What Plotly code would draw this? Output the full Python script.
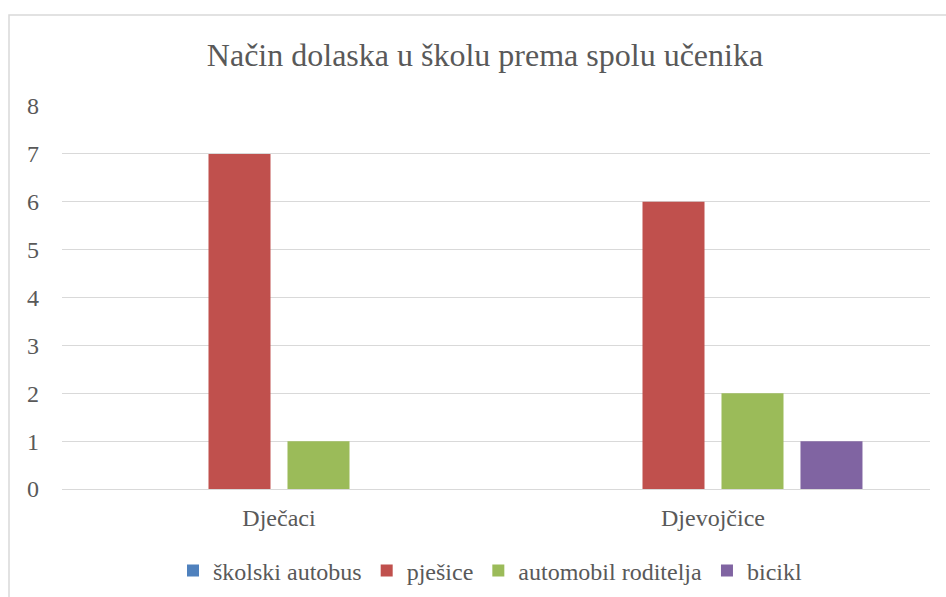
import plotly.graph_objects as go

categories = ["Dječaci", "Djevojčice"]
series_names = ["školski autobus", "pješice", "automobil roditelja", "bicikl"]
skolski_autobus = [0, 0]
pjesice = [7, 6]
automobil_roditelja = [1, 2]
bicikl = [0, 1]
series_values = [skolski_autobus, pjesice, automobil_roditelja, bicikl]
colors = ["#4F81BD", "#C0504D", "#9BBB59", "#8064A2"]
y_ticks = [0, 1, 2, 3, 4, 5, 6, 7, 8]

FONT = "'Liberation Serif', 'Times New Roman', serif"
TXT = "#595959"

fig = go.Figure()
for name, vals, col in zip(series_names, series_values, colors):
    fig.add_trace(go.Bar(name=name, x=categories, y=vals, marker=dict(color=col, line=dict(width=0))))

fig.update_layout(
    width=946, height=597,
    barmode="group", bargap=0.272, bargroupgap=0.215,
    paper_bgcolor="white", plot_bgcolor="white",
    margin=dict(l=62, r=16, t=106, b=108, pad=0),
    font=dict(family=FONT, color=TXT, size=24),
    title=dict(text="Način dolaska u školu prema spolu učenika", x=485/946, xref="container",
               xanchor="center", y=1-55/597, yref="container", yanchor="middle",
               font=dict(size=32, family=FONT, color=TXT)),
    legend=dict(orientation="h", x=490/946, xanchor="center", xref="container",
                y=1-571/597, yref="container", yanchor="middle",
                font=dict(size=24, family=FONT, color=TXT), itemwidth=30, traceorder="normal"),
    showlegend=True,
)
fig.update_yaxes(range=[0, 8], tickvals=y_ticks, showgrid=True, gridcolor="#D9D9D9", gridwidth=1,
                 zeroline=True, zerolinecolor="#D9D9D9", zerolinewidth=1, showline=False, ticks="",
                 ticklabelstandoff=22, tickfont=dict(size=24, family=FONT, color=TXT))
fig.update_xaxes(showgrid=False, showline=False, ticks="", ticklabelstandoff=12,
                 tickfont=dict(size=24, family=FONT, color=TXT))

fig.add_shape(type="rect", xref="paper", yref="paper",
              x0=(9-62)/868, x1=(960-62)/868, y0=(489-620)/383, y1=(489-15)/383,
              line=dict(color="#D9D9D9", width=1.5), fillcolor="rgba(0,0,0,0)", layer="below")

fig.write_html("out.html", config={"displayModeBar": False},
               post_script="document.body.style.margin='0';document.body.style.overflow='hidden';")
